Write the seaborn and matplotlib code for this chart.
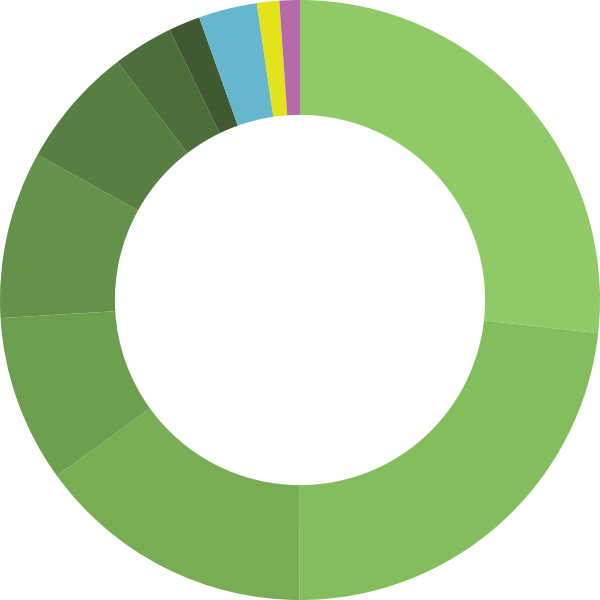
import seaborn as sns
from matplotlib import pyplot as plt

# slice shares, clockwise from 12 o'clock
labels = ['A', 'B', 'C', 'D', 'E', 'F', 'G', 'H', 'I', 'J', 'K']
values = [26.75, 23.25, 15.0, 9.0, 9.0, 6.55, 3.25, 1.7, 3.15, 1.2, 1.1]
colors = ['#8fca66', '#84be5c', '#79ad53', '#6c9f4e', '#64924b', '#587f42',
          '#4b6e3a', '#3f5a30', '#66b6cd', '#e4e31b', '#b56ba9']

sns.set_theme(style='white')
palette = sns.color_palette(colors)

fig = plt.figure(figsize=(6, 6), dpi=100)
ax = fig.add_axes([0, 0, 1, 1])
ax.pie(values, colors=palette, startangle=90, counterclock=False,
       radius=1.0, wedgeprops=dict(width=0.383, linewidth=0))
ax.set_xlim(-1, 1)
ax.set_ylim(-1, 1)
ax.set_aspect('equal')
ax.axis('off')
fig.savefig('out.png', dpi=100)
